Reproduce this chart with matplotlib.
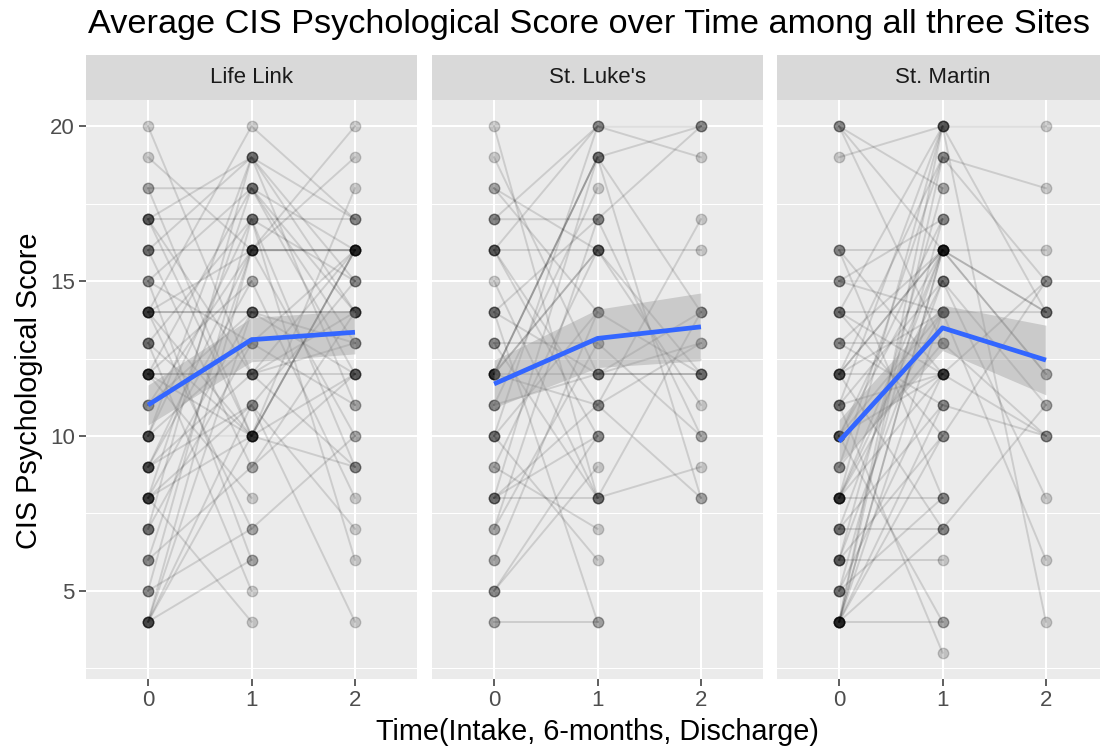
import numpy as np
import matplotlib.pyplot as plt

plt.rcParams['font.family'] = ['Liberation Sans', 'DejaVu Sans']

nan = np.nan
sites = ["Life Link", "St. Luke's", "St. Martin"]
times = [0, 1, 2]

# CIS psychological score per client at intake (t0), 6 months (t1), discharge (t2)
life_t0 = [20, 19, 18, 18, 17, 17, 17, 17, 17, 16, 16, 16, 16, 15, 15, 15,
           14, 14, 14, 14, 14, 14, 14, 13, 13, 13, 13, 12, 12, 12, 12, 12,
           12, 12, 12, 11, 11, 11, 10, 10, 10, 10, 10, 10, 9, 9, 9, 9, 9, 9,
           8, 8, 8, 8, 8, 8, 8, 7, 7, 7, 7, 6, 6, 6, 5, 5, 5, 4, 4, 4, 4, 4, 4]
life_t1 = [12, 16, 18, 10, 19, 10, 17, 12, nan, 16, 19, 9, nan, 18, 6, 13,
           14, 14, 20, 10, 16, 7, nan, 17, 10, 5, nan, 12, 12, 18, 15, 10,
           8, nan, nan, 16, 14, nan, 10, 19, 17, 13, nan, nan, 16, 12, 11, 15,
           nan, nan, 18, 14, 11, 10, 4, nan, nan, 19, 13, nan, nan, 16, 9,
           nan, 17, 7, nan, 10, 16, 14, 6, 11, nan]
life_t2 = [13, 16, 12, nan, 14, 16, 17, 9, nan, 16, 11, 14, nan, 14, nan, 16,
           14, 12, 17, 9, nan, 10, nan, 15, 18, nan, nan, 12, 16, 13, 8, 16,
           nan, nan, nan, 20, nan, nan, 12, 15, 6, nan, nan, nan, 19, 14, 4,
           nan, nan, nan, 16, 14, 7, nan, nan, nan, nan, 17, 11, nan, nan, 16,
           12, nan, 9, nan, nan, 16, 10, 13, nan, 15, nan]

luke_t0 = [20, 19, 18, 18, 17, 17, 17, 16, 16, 16, 16, 16, 15, 14, 14, 14, 14,
           13, 13, 13, 12, 12, 12, 12, 12, 12, 12, 12, 11, 11, 11, 10, 10, 10,
           10, 9, 9, 8, 8, 8, 8, 7, 7, 6, 6, 5, 5, 5, 4, 4]
luke_t1 = [8, 12, 14, 16, 17, 20, nan, 16, 10, 20, 11, nan, 8, 12, 17, 4, nan,
           13, 8, nan, 19, 19, 19, 16, 16, 12, 11, nan, 18, 12, nan, 20, 14, 6,
           nan, 16, 7, 19, 10, 11, 8, 17, 13, 14, nan, 10, 9, nan, 4, nan]
luke_t2 = [nan, 12, nan, nan, 20, 19, nan, 16, nan, 20, 8, nan, 14, 12, nan,
           nan, nan, 10, 9, nan, 20, 14, nan, 12, nan, 13, 17, nan, nan, 14,
           nan, nan, 12, nan, nan, 11, nan, 8, nan, 13, nan, 10, nan, nan, nan,
           nan, nan, nan, nan, nan]

martin_t0 = [20, 20, 20, 19, 16, 16, 16, 15, 15, 15, 14, 14, 14, 14, 13, 13,
             13, 12, 12, 12, 12, 12, 12, 11, 11, 11, 11, 10, 10, 10, 10, 10,
             10, 9, 9, 9, 8, 8, 8, 8, 8, 8, 8, 8, 7, 7, 7, 7, 6, 6, 6, 6, 6,
             5, 5, 5, 5, 4, 4, 4, 4, 4, 4, 4, 4, 4]
martin_t1 = [18, 13, 16, 20, 12, 16, 8, 14, 17, 15, 20, 12, 10, 14, 16, 11,
             13, 19, 16, 14, 7, 12, 16, 20, 15, 3, 12, 16, 17, 12, 4, 14, nan,
             19, 13, nan, 16, 20, 15, 12, 8, 14, nan, nan, 16, 7, 11, nan, 18,
             15, 10, 6, nan, 17, 12, 8, nan, 16, 16, 20, 14, 4, 7, 19, 11, 10]
martin_t2 = [nan, 10, nan, nan, 15, nan, nan, 14, nan, nan, 4, nan, 15, nan,
             14, nan, nan, 18, 12, nan, 11, nan, nan, 14, nan, nan, nan, 16,
             nan, 10, nan, nan, nan, 15, nan, nan, 14, 20, 11, nan, nan, 6, nan,
             nan, 12, nan, 10, nan, nan, 8, nan, nan, nan, nan, nan, nan, nan,
             nan, nan, nan, nan, nan, nan, nan, nan, nan]

site_scores = {
    "Life Link": np.array([life_t0, life_t1, life_t2], dtype=float).T,
    "St. Luke's": np.array([luke_t0, luke_t1, luke_t2], dtype=float).T,
    "St. Martin": np.array([martin_t0, martin_t1, martin_t2], dtype=float).T,
}

# width of the band around the mean, in standard errors
band_se = 1.3

W, H = 1100, 751
fig = plt.figure(figsize=(W / 100, H / 100), dpi=100)

panel_left = [86, 432, 777]
panel_w = 331
top, bottom, strip_top = 100, 679, 55

for i, site in enumerate(sites):
    x0 = panel_left[i]
    ax = fig.add_axes([x0 / W, 1 - bottom / H, panel_w / W, (bottom - top) / H])
    strip = fig.add_axes([x0 / W, 1 - top / H, panel_w / W, (top - strip_top) / H])

    ax.set_facecolor('#EBEBEB')
    ax.set_xlim(-0.6, 2.6)
    ax.set_ylim(2.15, 20.85)
    for s in ax.spines.values():
        s.set_visible(False)
    for y in [2.5, 7.5, 12.5, 17.5]:
        ax.axhline(y, color='white', lw=0.75, zorder=0)
    for y in [5, 10, 15, 20]:
        ax.axhline(y, color='white', lw=1.5, zorder=0)
    for x in times:
        ax.axvline(x, color='white', lw=1.5, zorder=0)

    scores = site_scores[site]
    for row in scores:
        ok = ~np.isnan(row)
        tx = np.array(times)[ok]
        ax.plot(tx, row[ok], color='black', alpha=0.13, lw=1.4, zorder=2)
        ax.plot(tx, row[ok], 'o', color='black', alpha=0.18, ms=7.5,
                mew=1.0, zorder=3)

    # mean score at each time point with a standard-error band
    n = np.sum(~np.isnan(scores), axis=0)
    mean = np.nanmean(scores, axis=0)
    se = np.nanstd(scores, axis=0, ddof=1) / np.sqrt(n)
    ax.fill_between(times, mean - band_se * se, mean + band_se * se,
                    color='#999999', alpha=0.4, lw=0, zorder=4)
    ax.plot(times, mean, color='#3366FF', lw=3.4, zorder=5,
            solid_capstyle='butt')

    ax.set_xticks(times)
    ax.set_xticklabels([str(t) for t in times])
    ax.tick_params(axis='x', length=5, width=1.1, color='#333333',
                   labelcolor='#4D4D4D', labelsize=16, pad=3)
    if i == 0:
        ax.set_yticks([5, 10, 15, 20])
        ax.tick_params(axis='y', length=5, width=1.1, color='#333333',
                       labelcolor='#4D4D4D', labelsize=16, pad=3)
    else:
        ax.set_yticks([])

    strip.set_facecolor('#D9D9D9')
    strip.set_xticks([])
    strip.set_yticks([])
    for s in strip.spines.values():
        s.set_visible(False)
    strip.text(0.5, 0.5, site, ha='center', va='center', fontsize=16,
               color='#1A1A1A', transform=strip.transAxes)

fig.text(88 / W, 1 - 25 / H, 'Average CIS Psychological Score over Time among all three Sites',
         ha='left', va='center', fontsize=24.7, color='black')
fig.text(29 / W, 1 - 391 / H, 'CIS Psychological Score', rotation=90,
         ha='center', va='center', fontsize=20.8, color='black')
fig.text(597 / W, 1 - 732 / H, 'Time(Intake, 6-months, Discharge)',
         ha='center', va='center', fontsize=20.8, color='black')

fig.savefig('out.png', dpi=100)
